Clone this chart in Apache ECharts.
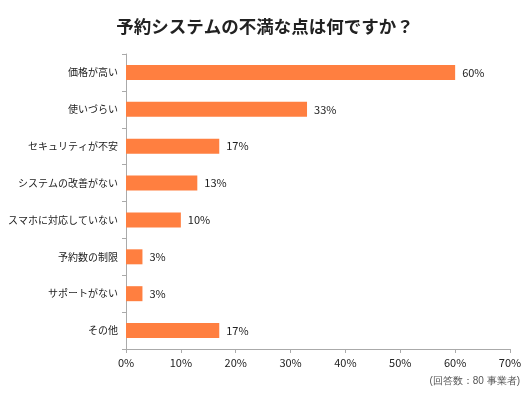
<!DOCTYPE html>
<html>
<head>
<meta charset="utf-8">
<script src="https://cdn.jsdelivr.net/npm/echarts@6/dist/echarts.min.js"></script>
<style>
  html, body { margin: 0; padding: 0; background: #fff; }
  #main { width: 530px; height: 400px; }
</style>
</head>
<body>
<div id="main"></div>
<script>
var categories = ['価格が高い', '使いづらい', 'セキュリティが不安', 'システムの改善がない', 'スマホに対応していない', '予約数の制限', 'サポートがない', 'その他'];
var values = [60, 33, 17, 13, 10, 3, 3, 17];
var titleText = '予約システムの不満な点は何ですか？';
var noteText = '(回答数：80 事業者)';

var font = '"Noto Sans CJK JP", sans-serif';
var chart = echarts.init(document.getElementById('main'));

var option = {
  animation: false,
  textStyle: { fontFamily: font },
  title: {
    text: titleText,
    left: 'center',
    top: 13,
    textStyle: { fontSize: 17.5, fontWeight: 'bold', color: '#222', fontFamily: font }
  },
  graphic: [{
    type: 'text',
    right: 10,
    top: 376,
    style: { text: noteText, fontSize: 10, fill: '#555', font: '10px ' + font }
  }],
  grid: { left: 126, right: 20, top: 54, bottom: 51 },
  xAxis: {
    type: 'value',
    min: 0,
    max: 70,
    interval: 10,
    axisLine: { show: true, lineStyle: { color: '#aaa' } },
    axisTick: { show: true, length: 4, lineStyle: { color: '#aaa' } },
    splitLine: { show: false },
    axisLabel: { formatter: '{value}%', color: '#222', fontSize: 11, margin: 8 }
  },
  yAxis: {
    type: 'category',
    inverse: true,
    data: categories,
    axisLine: { show: true, lineStyle: { color: '#aaa' } },
    axisTick: { show: true, length: 4, lineStyle: { color: '#aaa' } },
    axisLabel: { color: '#222', fontSize: 10, margin: 8 }
  },
  series: [{
    type: 'bar',
    data: values,
    barWidth: 15,
    itemStyle: { color: '#ff7f40' },
    label: {
      show: true,
      position: 'right',
      distance: 7,
      formatter: '{c}%',
      color: '#222',
      fontSize: 11
    }
  }]
};

chart.setOption(option);
</script>
</body>
</html>
